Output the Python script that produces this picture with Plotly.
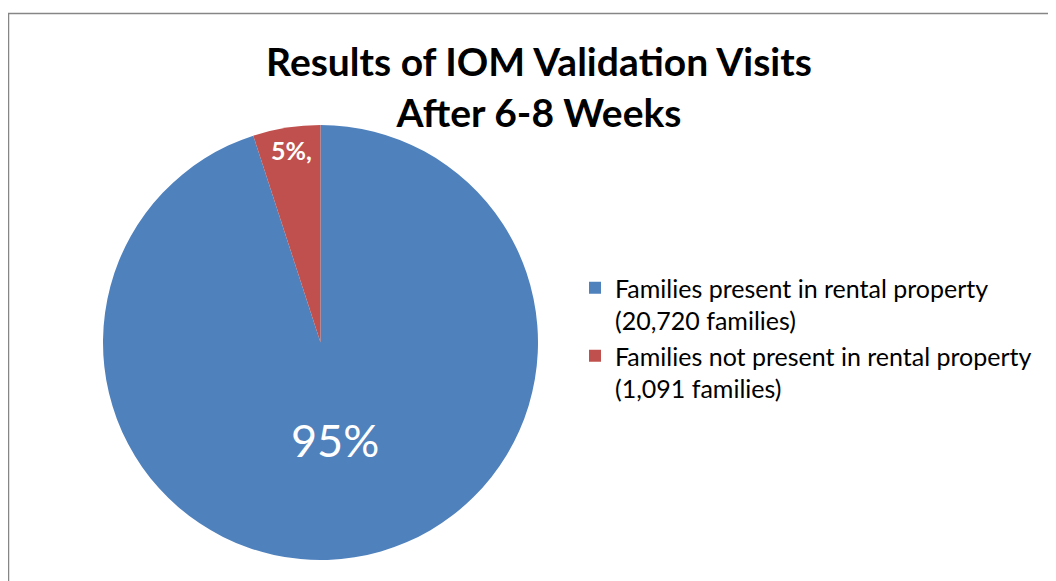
import plotly.graph_objects as go

labels = ["Families present in rental property<br>(20,720 families)",
          "Families not present in rental property<br>(1,091 families)"]
values = [20720, 1091]
colors = ["#4F81BD", "#C0504D"]
title_lines = ["Results of IOM Valida\u200ction Visits", "After 6-8 Weeks"]

W, H = 1056, 581
OFF = 8  # page offset of the plot inside the browser window


def px(x):
    return (x - OFF) / W


def py(y):
    return 1 - (y - OFF) / H


total = sum(values)
pcts = [round(v / total * 100) for v in values]

fig = go.Figure(go.Pie(
    labels=labels, values=values, sort=False, direction="clockwise", rotation=0,
    marker=dict(colors=colors, line=dict(width=0)),
    textinfo="none", hoverinfo="label+percent",
    domain=dict(x=[px(103), px(538)], y=[py(560), py(125)]),
))

fig.add_annotation(text=f"{pcts[0]}%", x=px(335), y=py(440), xref="paper", yref="paper",
                   xanchor="center", yanchor="middle",
                   showarrow=False, font=dict(family="Lato", size=45, color="white"))
fig.add_annotation(text=f"<b>{pcts[1]}%,</b>", x=px(291), y=py(150), xref="paper", yref="paper",
                   xanchor="center", yanchor="middle",
                   showarrow=False, font=dict(family="Lato", size=25, color="white"))

fig.add_shape(type="rect", xref="paper", yref="paper",
              x0=px(8.5), x1=1.05, y0=-0.05, y1=py(13.5),
              line=dict(color="#868686", width=1.5), layer="below")

fig.update_layout(
    width=W, height=H,
    margin=dict(l=0, r=0, t=0, b=0),
    paper_bgcolor="white", plot_bgcolor="white",
    title=dict(text="<b>" + "<br>".join(title_lines) + "</b>", x=px(539), xanchor="center",
               y=py(76), yanchor="top",
               font=dict(family="Lato", size=39, color="black")),
    legend=dict(x=px(575), y=py(265), xanchor="left", yanchor="top", valign="top",
                font=dict(family="Lato", size=25, color="#000000"),
                bgcolor="rgba(0,0,0,0)", itemwidth=30),
    showlegend=True,
)

fig.write_html("out.html")
